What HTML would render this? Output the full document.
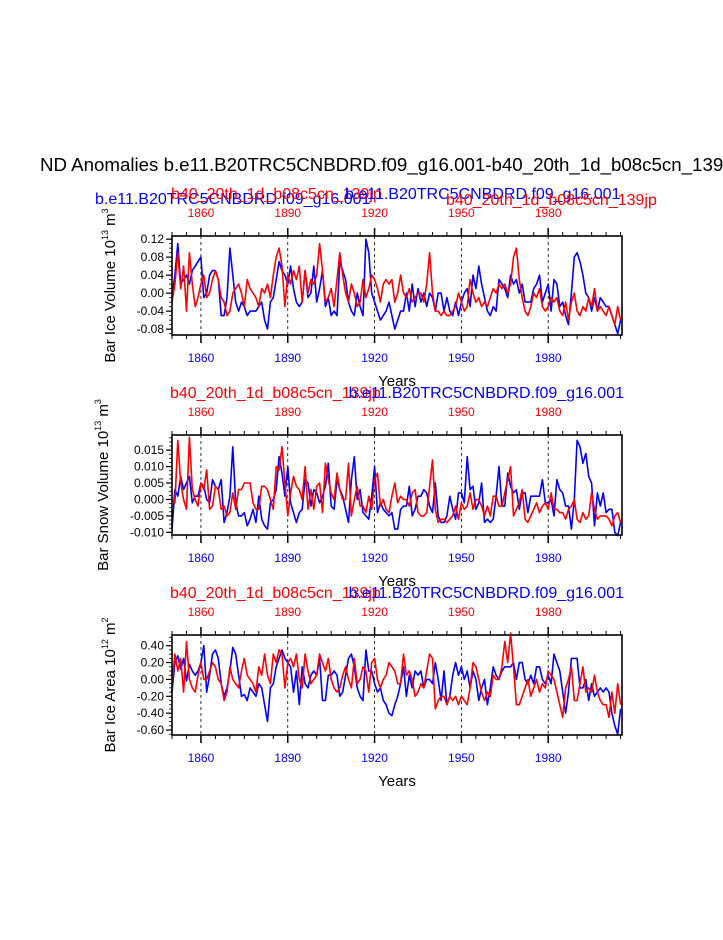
<!DOCTYPE html>
<html><head><meta charset="utf-8"><style>
body{margin:0;background:#fff;overflow:hidden}
svg text{font-family:"Liberation Sans",Arial,sans-serif}
</style></head><body>
<svg id="s" width="723" height="935" viewBox="0 0 723 935" xmlns="http://www.w3.org/2000/svg">
<text x="40" y="171" font-size="18.7">ND Anomalies b.e11.B20TRC5CNBDRD.f09_g16.001-b40_20th_1d_b08c5cn_139</text>
</svg>
<script>
const years = Array.from({length:156},(_,i)=>1850+i);
const iceVolBlue=[-1,4,11,2,3,4,2,5,6,7, 8,-1,0,4,5,5,3,-5,-5,-1, 10,4,-2,-4,-2,-3,-5,-4,-4,-4, -3,-2,-6,-8,-2,-1,3,7,5,4, 2,6,1,-2,-3,-2,5,-1,0,6, -2,1,5,-3,-1,-5,-4,-5,7,5, 3,-2,-4,-5,0,-3,-5,12,9,0, -2,-4,-6,-5,-4,-2,-5,-8,-6,-4, -4,0,-4,2,-3,1,-2,0,-3,0, -1,-4,0,0,-4,-1,-4,-5,-2,-5, -2,0,1,-3,4,1,6,2,-1,-4, -5,-3,-4,3,2,1,-1,4,2,3, 0,2,-2,-2,-2,1,2,4,-2,0, 2,-4,3,2,-3,-2,-5,-7,0,8, 9,7,4,0,-1,-4,-1,-4,-1,-2, -3,-3,-5,-7,-9,-6];
const iceVolRed=[-2,2,9,1,6,-4,9,2,-3,-1, 2,4,-1,0,3,5,3,-1,-2,-5, -4,0,1,2,0,-3,3,1,0,-1, -3,1,0,2,-1,4,8,10,6,-3, 4,2,5,3,6,-2,5,0,3,2, 4,11,5,-2,-1,1,-3,3,9,4, 0,-2,2,0,-3,-2,3,-1,1,4, 3,1,-2,2,3,2,3,-2,0,4, 0,-1,1,-2,-1,0,0,-2,2,9, 0,-4,-4,-5,-4,-5,-5,-4,-3,0, -2,-4,-3,3,0,-2,-1,-3,-2,-3, -1,1,0,2,1,2,0,2,8,10, 3,-1,-4,-5,-3,0,-1,1,-3,-4, -3,-1,-2,-1,-4,-5,-2,-6,-2,0, -4,-5,-3,-4,-1,-3,1,-4,-3,-4, -5,-3,-5,-7,-3,-6];
const snowBlue=[-9,3,1,7,3,5,7,-1,1,1, 5,4,0,-1,6,4,3,6,-7,-4, 1,16,-1,-5,-5,-4,-8,-6,-3,-7, 1,-6,-8,-9,-1,0,3,13,8,1, 10,-1,-4,-7,-4,-3,6,5,-2,3, 2,-1,1,4,11,-2,-3,6,3,1, -3,-7,6,13,0,3,-4,-5,-6,1, 10,-4,-1,-3,-4,-5,-4,-9,-9,-3, -2,-2,4,-5,-3,1,1,3,2,-2, -4,5,-5,-7,-7,-5,1,-3,-6,2, 2,-1,13,3,4,-3,-1,5,-7,-6, -7,-6,1,10,-2,-2,8,4,2,3, -3,2,2,-4,1,1,1,1,6,-1, -1,0,-5,6,3,2,-2,-2,-9,0, 18,16,11,14,7,5,-8,2,-2,2, -4,-3,-3,-10,-11,-7];
const snowRed=[0,-1,18,5,0,-3,19,3,0,-2, 5,3,9,-3,-2,4,3,-3,-2,-5, -4,2,-3,3,3,5,5,5,-1,-3, -3,4,4,3,0,-3,10,9,16,5, -5,2,7,4,3,0,10,-3,3,-3, 4,5,-4,11,6,2,0,8,3,0, 0,11,-5,0,4,-2,-2,-4,1,-3, 6,8,-2,0,-3,-4,1,5,-1,1, 0,0,-2,2,3,-4,-5,-5,-4,4, 12,-3,-7,-6,-6,-7,-6,-5,-2,-6, -1,-3,-2,2,-3,0,0,-2,-5,-2, -5,1,1,-2,-2,2,6,10,-5,-3, -1,3,-6,-7,-5,-3,-1,-4,-2,-1, -3,2,-3,-3,-4,-4,-6,-3,-2,0, -6,-7,-4,-6,-5,2,-3,-6,-5,-5, -5,-6,-8,-5,-4,-7];
const areaBlue=[-15,20,28,12,25,-2,18,10,5,10, 20,40,-15,5,30,35,25,-5,-20,-10, 10,38,30,5,-20,-18,-25,-10,-15,-20, -5,-10,-30,-50,-10,-5,15,25,35,25, 20,15,-15,10,-30,15,-5,-10,5,10, 5,25,-25,-25,5,5,10,5,-20,-15, 5,25,30,15,-10,-20,-25,35,10,10, -5,-15,-10,-25,-30,-40,-43,-30,-20,-5, 15,-20,5,-10,10,5,10,-10,0,0, -5,20,0,-25,10,-30,-20,5,20,5, 15,0,10,-10,10,0,-25,-10,0,-30, -10,15,5,0,10,15,15,15,20,0, 20,20,0,-5,5,-5,15,15,0,-5, 5,-5,30,20,10,-15,-40,-15,25,25, 25,-10,-10,0,-25,-5,-20,-15,-10,-15, -10,-15,-40,-55,-65,-35];
const areaRed=[-5,30,10,25,-15,45,0,-10,-15,5, 20,0,0,10,20,15,0,-5,-25,-15, 15,0,-5,-10,10,25,5,0,-5,-15, 15,5,30,5,-5,30,20,35,30,-10, 20,25,15,30,0,-10,30,10,-5,0, 5,30,20,10,25,0,-10,-15,-10,5, 15,0,-10,25,-5,0,15,10,-15,20, 25,0,-10,0,5,20,15,10,-5,-5, 30,5,10,0,-20,-15,-5,-10,10,30, 25,-35,-25,-20,-20,-30,-20,-25,-20,-30, -20,-25,-30,-10,20,15,0,-15,-25,-15, -20,5,0,0,15,45,20,55,15,-30, -30,-20,-10,0,-20,-10,0,-15,-5,-10, 10,5,0,-15,-30,-45,-10,0,15,-25, -25,-5,15,-15,-10,-15,5,-15,-25,-30, -30,-45,-15,-40,-5,-30];
const yearTicks=[1860,1890,1920,1950,1980];
const volTicks=[-0.08,-0.04,0,0.04,0.08,0.12];
const snowTicks=[-0.010,-0.005,0,0.005,0.010,0.015];
const areaTicks=[-0.6,-0.4,-0.2,0,0.2,0.4];
const NS='http://www.w3.org/2000/svg';
const svg=document.getElementById('s');
function mk(tag,attrs,parent){const e=document.createElementNS(NS,tag);for(const k in attrs)e.setAttribute(k,attrs[k]);(parent||svg).appendChild(e);return e;}
const X0=172,X1=622,Y0=1850,Y1=2005.5;
const xs=y=>X0+(y-Y0)/(Y1-Y0)*(X1-X0);
function panel(p){
  const g=mk('g',{});
  
  
  const ys=v=>p.bot-(v-p.vmin)/(p.vmax-p.vmin)*(p.bot-p.top);
  yearTicks.forEach(y=>{const l=mk('line',{x1:xs(y),x2:xs(y),y1:p.top,y2:p.bot,stroke:'#000','stroke-width':0.8,'stroke-dasharray':'3,3'},g);});
  for(let y=1850;y<=2005;y+=5){const maj=yearTicks.includes(y);const L=maj?8:4;
    mk('line',{x1:xs(y),x2:xs(y),y1:p.bot,y2:p.bot+L,stroke:'#000','stroke-width':maj?1.5:1},g);
    mk('line',{x1:xs(y),x2:xs(y),y1:p.top,y2:p.top-L,stroke:'#000','stroke-width':maj?1.5:1},g);}
  const step=(p.ticks[1]-p.ticks[0])/4;
  for(let v=p.ticks[0]-2*step;v<=p.vmax+1e-9;v+=step){if(v<p.vmin-1e-9)continue;
    mk('line',{x1:X0-3,x2:X0,y1:ys(v),y2:ys(v),stroke:'#000','stroke-width':0.8},g);}
  p.ticks.forEach(v=>{mk('line',{x1:X0-6,x2:X0,y1:ys(v),y2:ys(v),stroke:'#000','stroke-width':1.2},g);
    const t=mk('text',{x:X0-8,y:ys(v)+4,'font-size':12,'text-anchor':'end'},g);t.textContent=v.toFixed(p.dec);
    });
  yearTicks.forEach(y=>{
    const t=mk('text',{x:xs(y),y:p.top-19,'font-size':12,'text-anchor':'middle',fill:'#f00'},g);t.textContent=y;
    
    const b=mk('text',{x:xs(y),y:p.bot+27,'font-size':12,'text-anchor':'middle',fill:'#00f'},g);b.textContent=y;
    });
  const xt=mk('text',{x:397,y:p.bot+51,'font-size':15,'text-anchor':'middle'},g);xt.textContent='Years';
  
  const cy=(p.top+p.bot)/2;
  const yt=mk('text',{x:0,y:0,'font-size':15,'text-anchor':'middle',transform:`translate(${p.ytx},${cy}) rotate(-90)`},g);
  yt.innerHTML=p.ylab;
  
  [[p.blue,'#00f','series-blue'],[p.red,'#f00','series-red']].forEach(([arr,c,n])=>{
    const d=arr.map((v,i)=>(i?'L':'M')+xs(years[i]).toFixed(1)+','+ys(v*p.scale).toFixed(1)).join('');
    const pl=mk('path',{d:d,fill:'none',stroke:c,'stroke-width':1.6,'stroke-linejoin':'round'},g);
    });
  const r=mk('rect',{x:X0,y:p.top,width:X1-X0,height:p.bot-p.top,fill:'none',stroke:'#000','stroke-width':1.6},g);
  
  p.titles.forEach(([txt,x,y,c,anchor])=>{const t=mk('text',{x:x,y:y,'font-size':16,fill:c,'text-anchor':anchor||'start'},g);t.textContent=txt;
    });
}
const B='b.e11.B20TRC5CNBDRD.f09_g16.001', R='b40_20th_1d_b08c5cn_139jp';
panel({name:'ice-volume-panel',top:236,bot:335,vmin:-0.093,vmax:0.127,ticks:volTicks,dec:2,scale:0.01,blue:iceVolBlue,red:iceVolRed,ytx:115,
  ylab:'Bar Ice Volume 10<tspan font-size="9" dy="-7">13</tspan><tspan dy="7"> m</tspan><tspan font-size="9" dy="-7">3</tspan>',
  titles:[[B,95,204,'#00f'],[R,171,199,'#f00'],[B,345,199,'#00f'],[R,446,205,'#f00']]});
panel({name:'snow-volume-panel',top:435,bot:535,vmin:-0.0108,vmax:0.0196,ticks:snowTicks,dec:3,scale:0.001,blue:snowBlue,red:snowRed,ytx:108,
  ylab:'Bar Snow Volume 10<tspan font-size="9" dy="-7">13</tspan><tspan dy="7"> m</tspan><tspan font-size="9" dy="-7">3</tspan>',
  titles:[[R,170,398,'#f00'],[B,624,398,'#00f','end']]});
panel({name:'ice-area-panel',top:635,bot:735,vmin:-0.659,vmax:0.527,ticks:areaTicks,dec:2,scale:0.01,blue:areaBlue,red:areaRed,ytx:115,
  ylab:'Bar Ice Area 10<tspan font-size="9" dy="-7">12</tspan><tspan dy="7"> m</tspan><tspan font-size="9" dy="-7">2</tspan>',
  titles:[[R,170,598,'#f00'],[B,624,598,'#00f','end']]});
</script>
</body></html>
